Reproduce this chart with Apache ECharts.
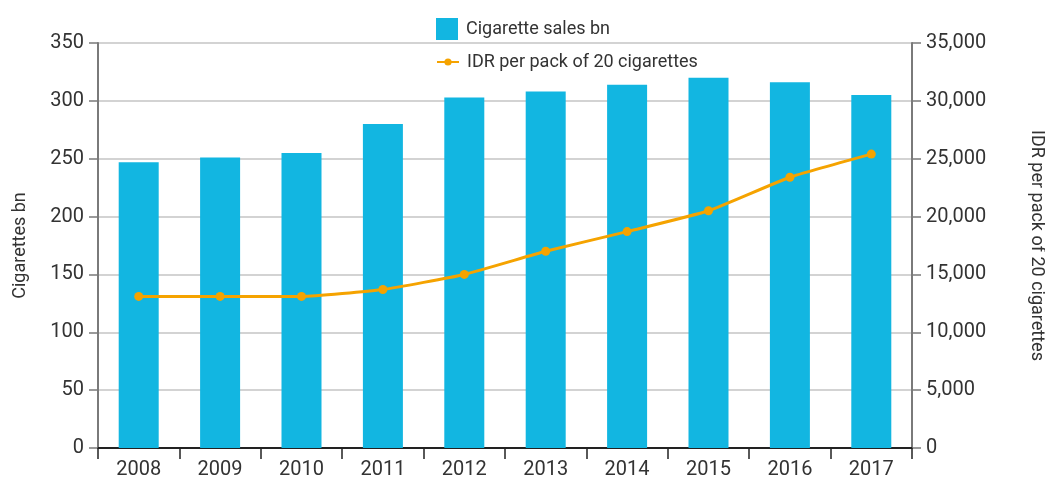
<!DOCTYPE html>
<html>
<head>
<meta charset="utf-8">
<script src="https://cdn.jsdelivr.net/npm/echarts@6/dist/echarts.min.js"></script>
<style>
  html, body { margin: 0; padding: 0; background: #fff; }
  #chart { width: 1045px; height: 487px; }
</style>
</head>
<body>
<div id="chart"></div>
<script>
// data
var years = ['2008', '2009', '2010', '2011', '2012', '2013', '2014', '2015', '2016', '2017'];
var salesBn = [247, 251, 255, 280, 303, 308, 314, 320, 316, 305];
var idrPerPack = [13100, 13100, 13100, 13700, 15000, 17000, 18700, 20500, 23400, 25400];
var leftTicks = [0, 350, 50];     // min, max, interval
var rightTicks = [0, 35000, 5000];

var textColor = '#333';
var fontFam = 'Roboto';

var chart = echarts.init(document.getElementById('chart'));
chart.setOption({
  animation: false,
  textStyle: { fontFamily: fontFam, color: textColor },
  grid: { left: 98, right: 133, top: 43, bottom: 39, containLabel: false, outerBoundsMode: 'none' },
  legend: [
    {
      data: [{ name: 'Cigarette sales bn', icon: 'rect' }],
      left: 431, top: 13,
      itemWidth: 22, itemHeight: 22,
      textStyle: { fontSize: 18, color: textColor, fontFamily: fontFam, padding: [0, 0, 0, 3] }
    },
    {
      data: ['IDR per pack of 20 cigarettes'],
      left: 431, top: 48,
      itemWidth: 22, itemHeight: 9,
      textStyle: { fontSize: 18, color: textColor, fontFamily: fontFam, padding: [0, 0, 0, 3] }
    }
  ],
  xAxis: {
    type: 'category',
    data: years,
    axisLine: { lineStyle: { color: '#222', width: 2 } },
    axisTick: { show: true, length: 11, lineStyle: { color: '#222', width: 1.5 } },
    axisLabel: { fontSize: 20, color: textColor, margin: 12 }
  },
  yAxis: [
    {
      type: 'value',
      min: leftTicks[0], max: leftTicks[1], interval: leftTicks[2],
      name: 'Cigarettes bn',
      nameLocation: 'middle',
      nameGap: 69,
      nameTextStyle: { fontSize: 18, color: textColor },
      axisLine: { show: true, lineStyle: { color: '#7a7a7a', width: 2 } },
      axisTick: { show: true, length: 9, lineStyle: { color: '#7a7a7a', width: 1.5 } },
      axisLabel: { fontSize: 20, color: textColor, margin: 14 },
      splitLine: { lineStyle: { color: '#c4c4c4', width: 1.5 } }
    },
    {
      type: 'value',
      min: rightTicks[0], max: rightTicks[1], interval: rightTicks[2],
      name: 'IDR per pack of 20 cigarettes',
      nameLocation: 'middle',
      nameGap: 115,
      nameRotate: -90,
      nameTextStyle: { fontSize: 18, color: textColor },
      axisLine: { show: true, lineStyle: { color: '#7a7a7a', width: 2 } },
      axisTick: { show: true, length: 9, lineStyle: { color: '#7a7a7a', width: 1.5 } },
      axisLabel: {
        fontSize: 20, color: textColor, margin: 14,
        formatter: function (v) { return v.toLocaleString('en-US'); }
      },
      splitLine: { show: false }
    }
  ],
  series: [
    {
      name: 'Cigarette sales bn',
      type: 'bar',
      yAxisIndex: 0,
      data: salesBn,
      barWidth: 40,
      itemStyle: { color: '#12B6E1' }
    },
    {
      name: 'IDR per pack of 20 cigarettes',
      type: 'line',
      yAxisIndex: 1,
      data: idrPerPack,
      smooth: 0.15,
      symbol: 'circle',
      symbolSize: 9,
      lineStyle: { color: '#F5A300', width: 3 },
      itemStyle: { color: '#F5A300' }
    }
  ]
});
</script>
</body>
</html>
